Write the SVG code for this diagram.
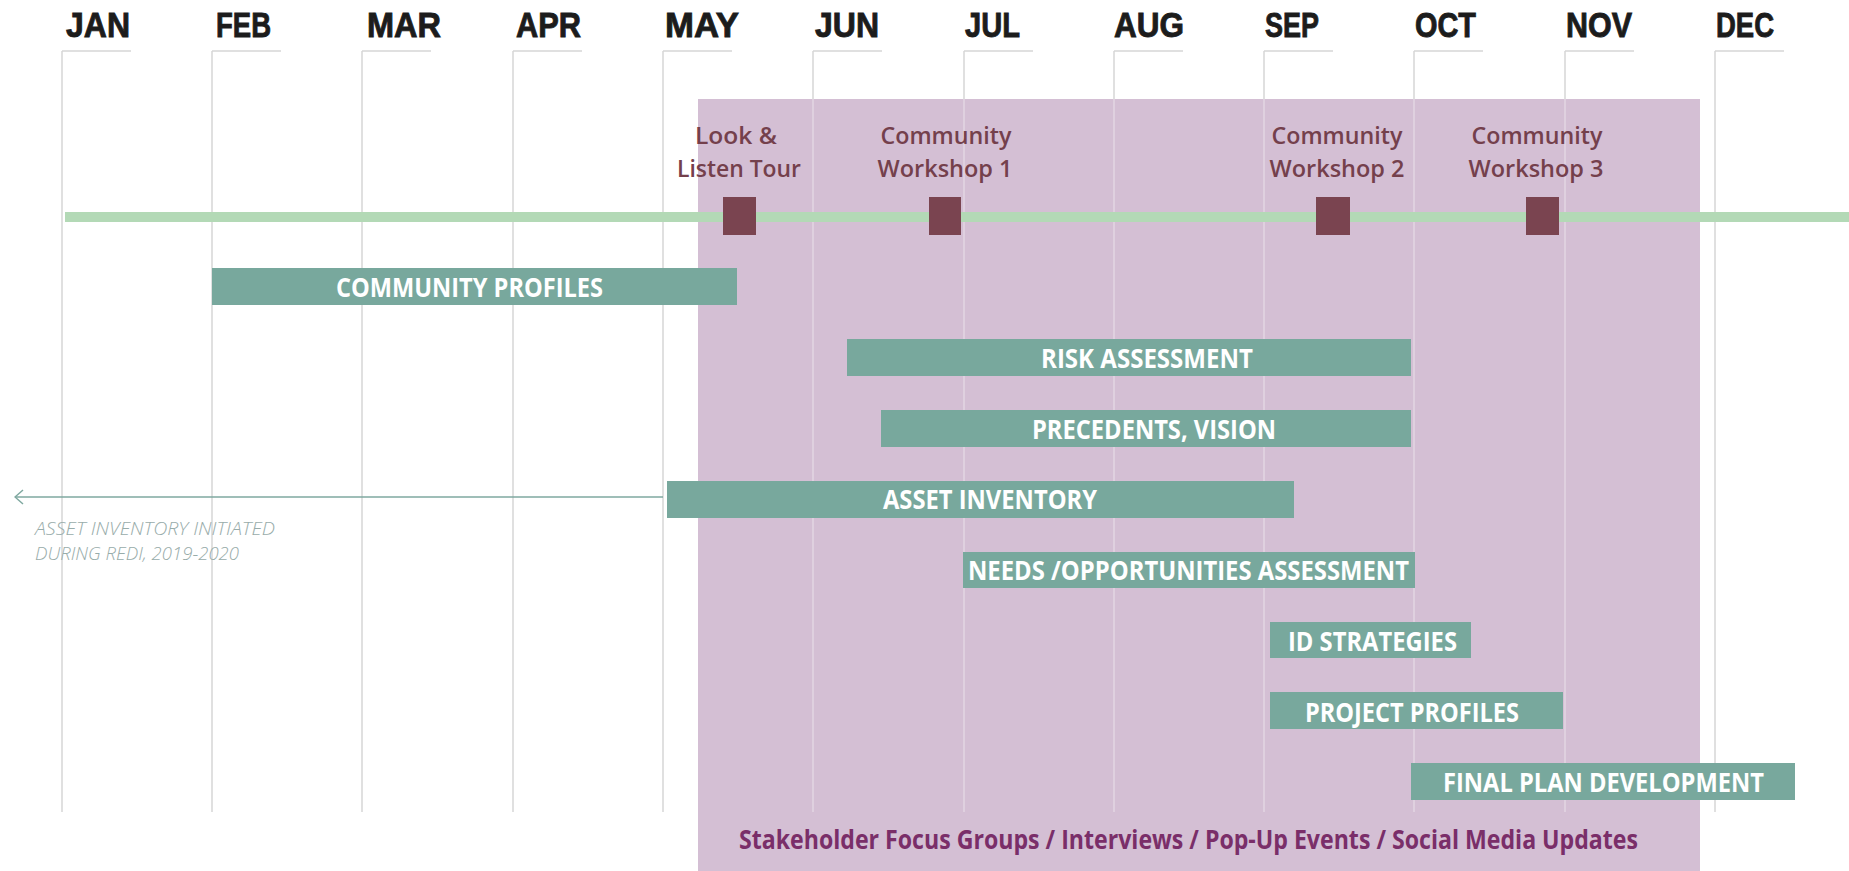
<svg xmlns="http://www.w3.org/2000/svg" width="1849" height="871" viewBox="0 0 1849 871">
<defs>
<style>
.mon{font-family:"Liberation Sans",Arial,sans-serif;font-weight:bold;font-size:35px;fill:#1c1c1c;stroke:#1c1c1c;stroke-width:0.9}
.grid{stroke:#d6d6d6;stroke-width:1.5;fill:none}
.gridin{stroke:#e2d6e2;stroke-width:1.5;fill:none}
.bar{fill:#78a89d}
.bt{font-family:"Open Sans","Liberation Sans",sans-serif;font-weight:bold;font-size:26px;fill:#ffffff}
.ev{font-family:"Open Sans","Liberation Sans",sans-serif;font-weight:600;font-size:24px;fill:#74404c;text-anchor:middle}
.mk{fill:#7a4450}
.note{font-family:"Open Sans","Liberation Sans",sans-serif;font-style:italic;font-weight:300;font-size:18px;fill:#98acaa}
.stk{font-family:"Open Sans","Liberation Sans",sans-serif;font-weight:bold;font-size:27px;fill:#7a2e69}
</style>
<marker id="open" viewBox="0 0 10 16" refX="9" refY="8" markerWidth="10" markerHeight="16" markerUnits="userSpaceOnUse" orient="auto">
<path d="M1,1 L9,8 L1,15" fill="none" stroke="#7fa8a0" stroke-width="1.5"/>
</marker>
</defs>
<rect width="1849" height="871" fill="#ffffff"/>

<g id="grid">
<path class="grid" d="M62,51H131M62,51V812 M212,51H281M212,51V812 M362,51H431M362,51V812 M513,51H582M513,51V812 M663,51H732M663,51V812 M813,51H882M813,51V99 M964,51H1033M964,51V99 M1114,51H1183M1114,51V99 M1264,51H1333M1264,51V99 M1414,51H1483M1414,51V99 M1565,51H1634M1565,51V99 M1715,51H1784M1715,51V812"/>
</g>

<g id="months">
<text class="mon" x="66" y="37" textLength="64" lengthAdjust="spacingAndGlyphs">JAN</text>
<text class="mon" x="216" y="37" textLength="55" lengthAdjust="spacingAndGlyphs">FEB</text>
<text class="mon" x="367" y="37" textLength="74" lengthAdjust="spacingAndGlyphs">MAR</text>
<text class="mon" x="516" y="37" textLength="65" lengthAdjust="spacingAndGlyphs">APR</text>
<text class="mon" x="665" y="37" textLength="74" lengthAdjust="spacingAndGlyphs">MAY</text>
<text class="mon" x="815" y="37" textLength="64" lengthAdjust="spacingAndGlyphs">JUN</text>
<text class="mon" x="965" y="37" textLength="55" lengthAdjust="spacingAndGlyphs">JUL</text>
<text class="mon" x="1114" y="37" textLength="70" lengthAdjust="spacingAndGlyphs">AUG</text>
<text class="mon" x="1265" y="37" textLength="54" lengthAdjust="spacingAndGlyphs">SEP</text>
<text class="mon" x="1415" y="37" textLength="61" lengthAdjust="spacingAndGlyphs">OCT</text>
<text class="mon" x="1566" y="37" textLength="66" lengthAdjust="spacingAndGlyphs">NOV</text>
<text class="mon" x="1716" y="37" textLength="58" lengthAdjust="spacingAndGlyphs">DEC</text>
</g>

<g id="engagement-period">
<rect x="698" y="99" width="1002" height="772" fill="#d4bfd4"/>
<path class="gridin" d="M813,99V812 M964,99V812 M1114,99V812 M1264,99V812 M1414,99V812 M1565,99V812"/>
<text class="stk" x="739" y="849" textLength="899" lengthAdjust="spacingAndGlyphs">Stakeholder Focus Groups / Interviews / Pop-Up Events / Social Media Updates</text>
</g>

<g id="timeline">
<rect x="65" y="212" width="1784" height="10" fill="#b3d9b6"/>
</g>

<g id="event-look-listen">
<text class="ev" x="736" y="144" textLength="82" lengthAdjust="spacingAndGlyphs">Look &amp;</text>
<text class="ev" x="739" y="177" textLength="124" lengthAdjust="spacingAndGlyphs">Listen Tour</text>
<rect class="mk" x="723" y="197" width="33" height="38"/>
</g>
<g id="event-workshop-1">
<text class="ev" x="946" y="144" textLength="131" lengthAdjust="spacingAndGlyphs">Community</text>
<text class="ev" x="945" y="177" textLength="135" lengthAdjust="spacingAndGlyphs">Workshop 1</text>
<rect class="mk" x="929" y="197" width="32" height="38"/>
</g>
<g id="event-workshop-2">
<text class="ev" x="1337" y="144" textLength="131" lengthAdjust="spacingAndGlyphs">Community</text>
<text class="ev" x="1337" y="177" textLength="135" lengthAdjust="spacingAndGlyphs">Workshop 2</text>
<rect class="mk" x="1316" y="197" width="34" height="38"/>
</g>
<g id="event-workshop-3">
<text class="ev" x="1537" y="144" textLength="131" lengthAdjust="spacingAndGlyphs">Community</text>
<text class="ev" x="1536" y="177" textLength="135" lengthAdjust="spacingAndGlyphs">Workshop 3</text>
<rect class="mk" x="1526" y="197" width="33" height="38"/>
</g>

<g id="connectors">
<line x1="663" y1="497" x2="15" y2="497" stroke="#7fa8a0" stroke-width="1.5" marker-end="url(#open)"/>
</g>

<g id="task-community-profiles">
<rect class="bar" x="212" y="268" width="525" height="37"/>
<text class="bt" x="336" y="297" textLength="267" lengthAdjust="spacingAndGlyphs">COMMUNITY PROFILES</text>
</g>
<g id="task-risk-assessment">
<rect class="bar" x="847" y="339" width="564" height="37"/>
<text class="bt" x="1041" y="368" textLength="212" lengthAdjust="spacingAndGlyphs">RISK ASSESSMENT</text>
</g>
<g id="task-precedents-vision">
<rect class="bar" x="881" y="410" width="530" height="37"/>
<text class="bt" x="1032" y="439" textLength="244" lengthAdjust="spacingAndGlyphs">PRECEDENTS, VISION</text>
</g>
<g id="task-asset-inventory">
<rect class="bar" x="667" y="481" width="627" height="37"/>
<text class="bt" x="883" y="509" textLength="214" lengthAdjust="spacingAndGlyphs">ASSET INVENTORY</text>
</g>
<g id="note-asset-inventory">
<text class="note" x="35" y="535" textLength="240" lengthAdjust="spacingAndGlyphs">ASSET INVENTORY INITIATED</text>
<text class="note" x="35" y="560" textLength="204" lengthAdjust="spacingAndGlyphs">DURING REDI, 2019-2020</text>
</g>
<g id="task-needs-opportunities">
<rect class="bar" x="963" y="552" width="452" height="36"/>
<text class="bt" x="968" y="580" textLength="441" lengthAdjust="spacingAndGlyphs">NEEDS /OPPORTUNITIES ASSESSMENT</text>
</g>
<g id="task-id-strategies">
<rect class="bar" x="1270" y="622" width="201" height="36"/>
<text class="bt" x="1288" y="651" textLength="169" lengthAdjust="spacingAndGlyphs">ID STRATEGIES</text>
</g>
<g id="task-project-profiles">
<rect class="bar" x="1270" y="692" width="293" height="37"/>
<text class="bt" x="1305" y="722" textLength="214" lengthAdjust="spacingAndGlyphs">PROJECT PROFILES</text>
</g>
<g id="task-final-plan">
<rect class="bar" x="1411" y="763" width="384" height="37"/>
<text class="bt" x="1443" y="792" textLength="321" lengthAdjust="spacingAndGlyphs">FINAL PLAN DEVELOPMENT</text>
</g>
</svg>
